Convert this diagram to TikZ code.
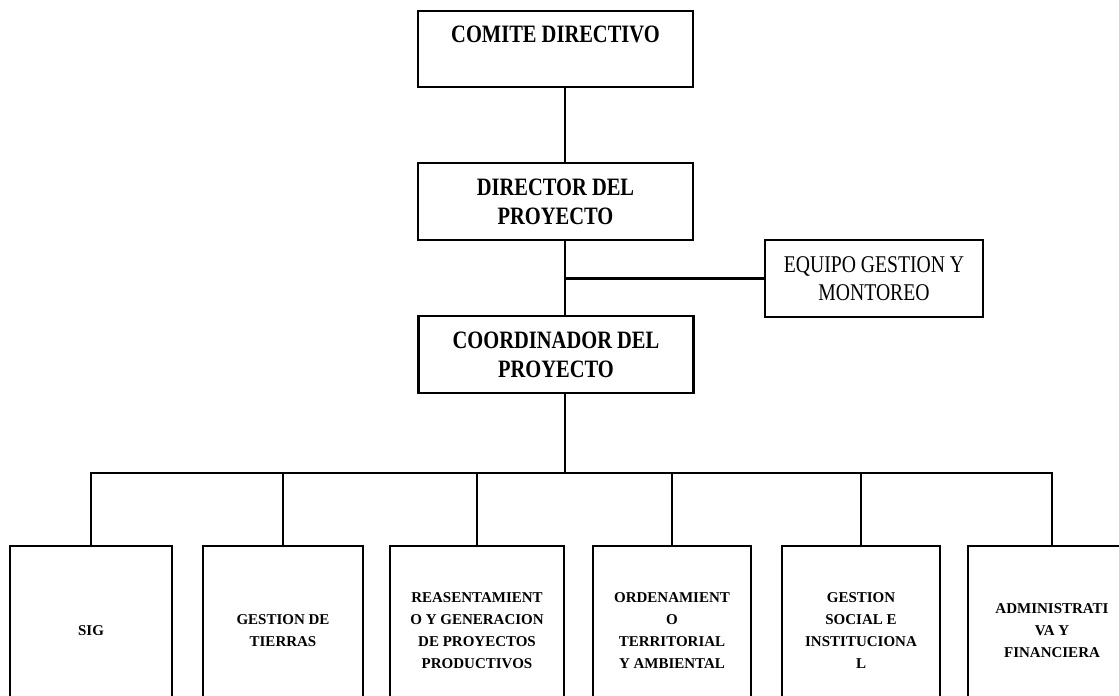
\documentclass[tikz,border=0pt]{standalone}
\usepackage{fontspec}
\setmainfont{Liberation Serif}
\newfontfamily\headfont[FakeStretch=0.82]{Liberation Serif}
\begin{document}
\begin{tikzpicture}[x=1pt,y=-1pt,line join=miter,
  caja/.style={draw,line width=2.6pt,inner sep=0pt,align=center},
  jefe/.style={caja,minimum width=275pt,minimum height=77pt,font=\headfont\bfseries\fontsize{25}{29}\selectfont},
  area/.style={caja,minimum height=170pt,font=\bfseries\fontsize{15}{22}\selectfont},
  linea/.style={line width=2.2pt}]
\useasboundingbox (0,0) rectangle (1119,696);
\clip (0,0) rectangle (1119,696);
\node[jefe,minimum height=76pt] (comite) at (555.5,49) {COMITE DIRECTIVO\\ ~};
\node[jefe] (director) at (555.5,201.5) {DIRECTOR DEL\\PROYECTO};
\node[jefe] (coord) at (556,354.5) {COORDINADOR DEL\\PROYECTO};
\node[caja,minimum width=218pt,minimum height=77pt,font=\headfont\fontsize{24}{28}\selectfont] (equipo) at (874,278.5) {EQUIPO GESTION Y\\MONTOREO};
% areas
\node[area,minimum width=162pt] (sig) at (91,631) {SIG};
\node[area,minimum width=160pt] (tierras) at (283,631) {GESTION DE\\TIERRAS};
\node[area,minimum width=174pt] (reasent) at (477,631) {REASENTAMIENT\\O Y GENERACION\\DE PROYECTOS\\PRODUCTIVOS};
\node[area,minimum width=158pt] (orden) at (672,631) {ORDENAMIENT\\O\\TERRITORIAL\\Y AMBIENTAL};
\node[area,minimum width=158pt] (social) at (861,631) {GESTION\\SOCIAL E\\INSTITUCIONA\\L};
\node[area,minimum width=168pt] (admin) at (1052,631) {ADMINISTRATI\\VA Y\\FINANCIERA};
\coordinate (eje) at (565,0);
\coordinate (bus) at (0,473);
\draw[linea] (comite.south -| eje) -- (director.north -| eje);
\draw[linea] (director.south -| eje) -- (coord.north -| eje);
\draw[linea] (eje |- equipo.west) -- (equipo.west);
\draw[linea] (coord.south -| eje) -- (eje |- bus);
\draw[linea] (sig.north) -- (sig.north |- bus) -- (admin.north |- bus) -- (admin.north);
\foreach \n in {tierras,reasent,orden,social}
  \draw[linea] (\n.north) -- (\n.north |- bus);
\end{tikzpicture}
\end{document}
